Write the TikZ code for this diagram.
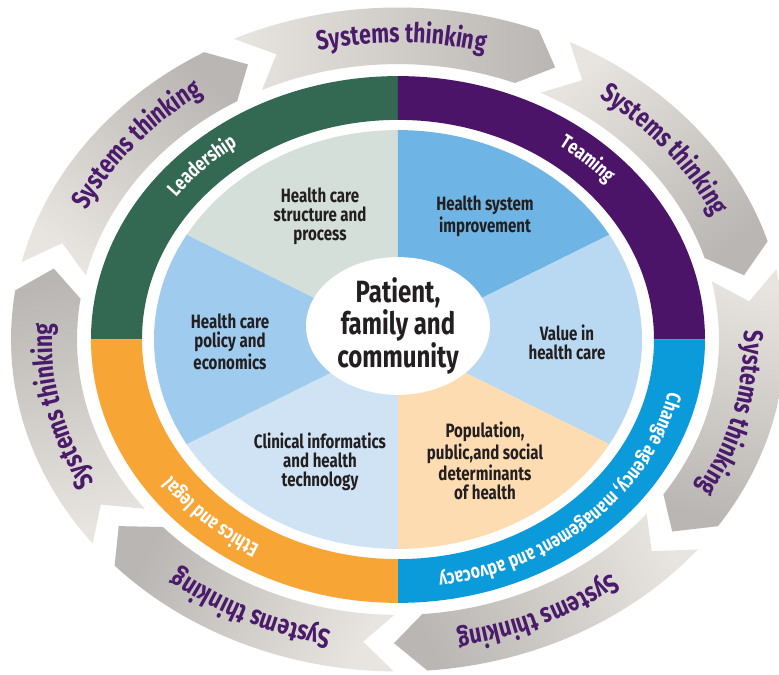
\documentclass[tikz,border=0pt]{standalone}
\usepackage{fontspec}
\newfontfamily\condfont{Fira Sans}[FakeStretch=0.78]
\usetikzlibrary{decorations.text, positioning}
\usetikzlibrary{shapes.geometric}
\definecolor{leadgreen}{HTML}{336853}
\definecolor{teampurple}{HTML}{4C1468}
\definecolor{changeblue}{HTML}{0B9BDB}
\definecolor{ethicsorange}{HTML}{F7A535}
\definecolor{structgrey}{HTML}{D5DFDA}
\definecolor{improveblue}{HTML}{6EB5E5}
\definecolor{valueblue}{HTML}{B9D9F2}
\definecolor{popbeige}{HTML}{FDDCB1}
\definecolor{clinblue}{HTML}{CFE3F5}
\definecolor{policyblue}{HTML}{9FCBEE}
\definecolor{bannerlight}{HTML}{E8E4DF}
\definecolor{bannerdark}{HTML}{B9B6B3}
\definecolor{inktext}{HTML}{231F20}
\definecolor{sysviolet}{HTML}{4A1A6B}
\newcommand\ringfont{\condfont\bfseries\fontsize{11.5}{11.5}\selectfont}
\newcommand\sysfont{\condfont\bfseries\fontsize{15.5}{15.5}\selectfont}
\tikzstyle{wedge} = [draw=none]
\tikzset{
	slabel/.style = {align=center, text=inktext, inner sep=0pt,
		font=\condfont\bfseries\fontsize{11}{10.8}\selectfont},
	hub/.style = {ellipse, fill=white, minimum width=3.68cm, minimum height=2.64cm,
		align=center, text=inktext, inner sep=0pt,
		font=\condfont\bfseries\fontsize{17.5}{17}\selectfont},
	ringtext/.style = {decorate, decoration={text along path, text align=center, text color=white}},
	banner/.style = {top color=bannerdark, bottom color=bannerlight},
	bannertext/.style = {decorate, decoration={text along path, text align=center, text color=sysviolet}}
}

\begin{document}
\begin{tikzpicture}[x=0.02cm, y=0.02cm]
\useasboundingbox (-398,-335.5) rectangle (381,339.5);
\clip (-398,-335.5) rectangle (381,339.5);
\fill[white] (-398,-335.5) rectangle (381,339.5);
%----------------------------------------------------------------------------
% Outer ring of arrows
\foreach \k in {0,...,6}{
	\pgfmathsetmacro\ta{166.5-51.43*\k}
	\pgfmathsetmacro\tb{\ta-51.43}
	\pgfmathsetmacro\sh{\tb+5}
	\pgfmathsetmacro\nt{\ta-5}
	\pgfmathsetmacro\md{\ta-25.7}
	\pgfmathsetmacro\sa{\md-180}
	\pgfmathsetmacro\ma{\md+40}
	\pgfmathsetmacro\mb{\md-40}
	\path[banner, shading angle=\sa] (\ta:387 and 332) arc[start angle=\ta, end angle=\sh, x radius=387, y radius=332]
		-- (\tb:354 and 303.7) -- (\sh:321 and 275.4) arc[start angle=\sh, end angle=\ta, x radius=321, y radius=275.4]
		-- (\nt:354 and 303.7) -- cycle;
	\path[bannertext, decoration={text={|\sysfont|Systems thinking}}]
		(\ma:346 and 296.9) arc[start angle=\ma, end angle=\mb, x radius=346, y radius=296.9];
}

%----------------------------------------------------------------------------
% Coloured ring
\fill[leadgreen] (90:307 and 263.4) arc[start angle=90, end angle=180, x radius=307, y radius=263.4]
	-- (180:256 and 219.6) arc[start angle=180, end angle=90, x radius=256, y radius=219.6] -- cycle;
\fill[teampurple] (0:307 and 263.4) arc[start angle=0, end angle=90, x radius=307, y radius=263.4]
	-- (90:256 and 219.6) arc[start angle=90, end angle=0, x radius=256, y radius=219.6] -- cycle;
\fill[changeblue] (-90:307 and 263.4) arc[start angle=-90, end angle=0, x radius=307, y radius=263.4]
	-- (0:256 and 219.6) arc[start angle=0, end angle=-90, x radius=256, y radius=219.6] -- cycle;
\fill[ethicsorange] (180:307 and 263.4) arc[start angle=180, end angle=270, x radius=307, y radius=263.4]
	-- (270:256 and 219.6) arc[start angle=270, end angle=180, x radius=256, y radius=219.6] -- cycle;

\path[ringtext, decoration={text={|\ringfont|Leadership}}]
	(176:277 and 237.7) arc[start angle=176, end angle=96, x radius=277, y radius=237.7];
\path[ringtext, decoration={text={|\ringfont|Teaming}}]
	(86:277 and 237.7) arc[start angle=86, end angle=6, x radius=277, y radius=237.7];
\path[ringtext, decoration={text={|\ringfont|Change agency, management and advocacy}}]
	(4:277 and 237.7) arc[start angle=4, end angle=-96, x radius=277, y radius=237.7];
\path[ringtext, decoration={text={|\ringfont|Ethics and legal}}]
	(266:277 and 237.7) arc[start angle=266, end angle=186, x radius=277, y radius=237.7];

%----------------------------------------------------------------------------
% Pie of six domains
\fill[structgrey, wedge] (0,0) -- (90:244 and 209.4) arc[start angle=90, end angle=150, x radius=244, y radius=209.4] -- cycle;
\fill[improveblue, wedge] (0,0) -- (30:244 and 209.4) arc[start angle=30, end angle=90, x radius=244, y radius=209.4] -- cycle;
\fill[valueblue, wedge] (0,0) -- (-30:244 and 209.4) arc[start angle=-30, end angle=30, x radius=244, y radius=209.4] -- cycle;
\fill[popbeige, wedge] (0,0) -- (-90:244 and 209.4) arc[start angle=-90, end angle=-30, x radius=244, y radius=209.4] -- cycle;
\fill[clinblue, wedge] (0,0) -- (-150:244 and 209.4) arc[start angle=-150, end angle=-90, x radius=244, y radius=209.4] -- cycle;
\fill[policyblue, wedge] (0,0) -- (150:244 and 209.4) arc[start angle=150, end angle=210, x radius=244, y radius=209.4] -- cycle;

\node (structure) [slabel] at (-78,123.5) {Health care\\structure and\\process};
\node (improvement) [slabel] at (87,123.5) {Health system\\improvement};
\node (value) [slabel] at (169,-2.5) {Value in\\health care};
\node (population) [slabel] at (87,-121.5) {Population,\\public,and social\\determinants\\of health};
\node (clinical) [slabel] at (-78,-122.5) {Clinical informatics\\and health\\technology};
\node (policy) [slabel] at (-168,-2.5) {Health care\\policy and\\economics};

%----------------------------------------------------------------------------
% Centre
\node (patient) [hub] at (0,13.5) {Patient,\\family and\\community};
\end{tikzpicture}
\end{document}
